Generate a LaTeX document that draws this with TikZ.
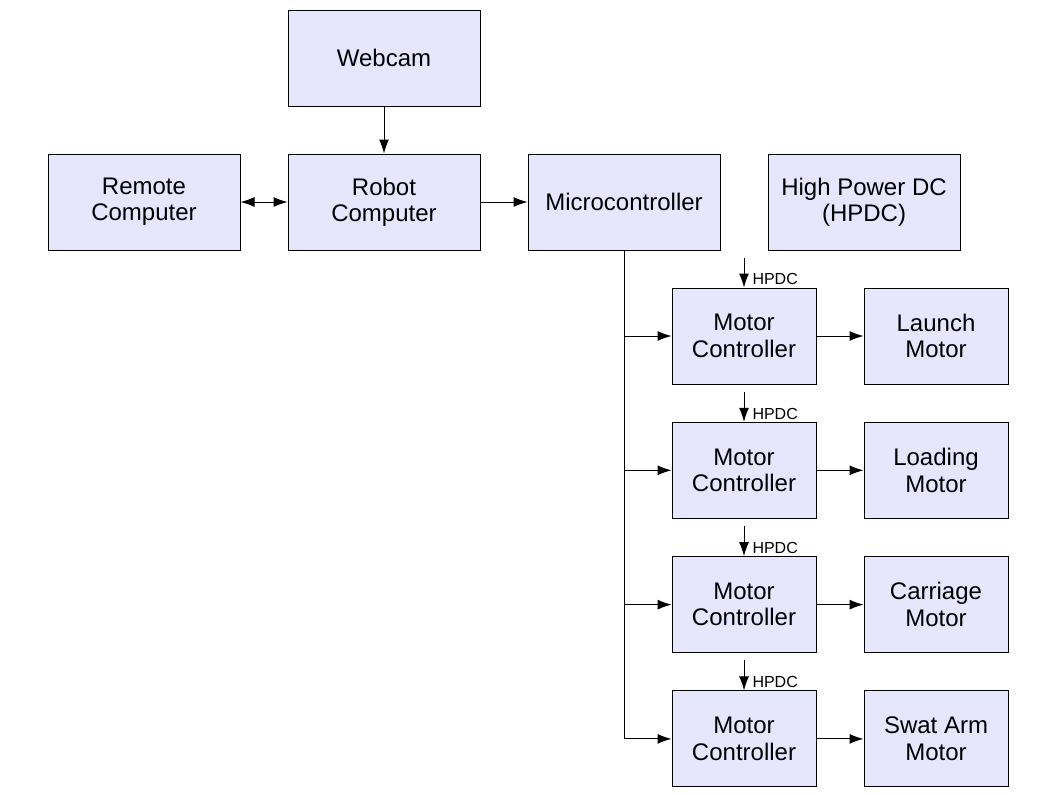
\documentclass[tikz,border=0pt]{standalone}
\usepackage{fontspec}
\setmainfont{Liberation Sans}
\usetikzlibrary{positioning,arrows.meta}
\definecolor{boxfill}{HTML}{E6E6FF}

\begin{document}
\begin{tikzpicture}[
x=0.5pt,y=-0.5pt,
node distance=23.5pt,
mybox/.style={
  draw,
  fill=boxfill,
  line width=0.5pt,
  minimum width=96pt,
  minimum height=48pt,
  inner sep=0pt,
  align=center,
  font=\fontsize{12}{13.2}\selectfont
  },
smallbox/.style={mybox,minimum width=72pt},
myarrow/.style={-{Latex[length=7pt,width=5pt]}},
every path/.append style={line width=0.5pt}
]
\useasboundingbox (0,0) rectangle (1058,794);
\node[mybox] (robot) at (384,202) {Robot\\Computer};
\node[mybox,above=of robot] (webcam) {Webcam};
\node[mybox,left=of robot] (remote) {Remote\\Computer};
\node[mybox,right=of robot] (micro) {Microcontroller};
\node[mybox,right=of micro] (hpdc) {High Power DC\\(HPDC)};
\draw[myarrow] (webcam) -- (robot);
\draw[{Latex[length=7pt,width=5pt]}-{Latex[length=7pt,width=5pt]}] (remote) -- (robot);
\draw[myarrow] (robot) -- (micro);
\foreach \Name [count=\i] in {Launch,Loading,Carriage,Swat Arm}{
  \node[smallbox] (mc\i) at (744,{336+134.3*(\i-1)}) {Motor\\Controller};
  \node[smallbox,right=of mc\i] (m\i) {\Name\\Motor};
  \draw[myarrow] (mc\i) -- (m\i);
  \draw[myarrow] (micro.south |- mc\i) -- (mc\i);
  \draw[myarrow] ([yshift=15pt]mc\i.north) -- (mc\i.north)
    node[anchor=south west,inner sep=1pt,xshift=3pt,font=\fontsize{8}{9}\selectfont] {HPDC};
}
\draw (micro.south) -- (micro.south |- mc4);
\end{tikzpicture}
\end{document}
